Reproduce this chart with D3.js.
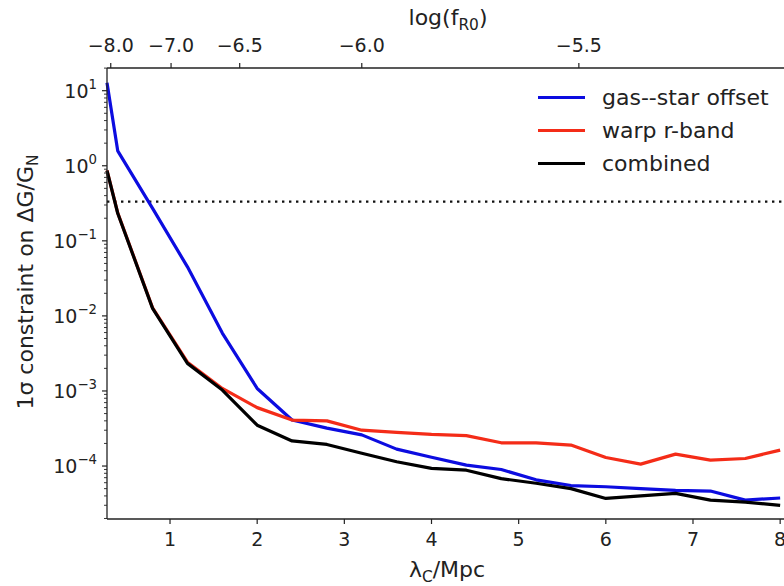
<!DOCTYPE html>
<html>
<head>
<meta charset="utf-8">
<script src="https://cdn.jsdelivr.net/npm/d3@7"></script>
<style>
  html, body { margin: 0; padding: 0; background: #fff; }
  svg { display: block; font-family: "DejaVu Sans", sans-serif; }
</style>
</head>
<body>
<svg id="chart" width="784" height="586"></svg>
<script>
// ---------------- data ----------------
const lambdaC = [0.277, 0.4, 0.8, 1.2, 1.6, 2.0, 2.4, 2.8, 3.2, 3.6, 4.0, 4.4, 4.8, 5.2, 5.6, 6.0, 6.4, 6.8, 7.2, 7.6, 8.0];
const gasStar = [12.8, 1.58, 0.27, 0.045, 0.0059, 1.08e-3, 4.1e-4, 3.2e-4, 2.6e-4, 1.68e-4, 1.31e-4, 1.03e-4, 9.0e-5, 6.55e-5, 5.5e-5, 5.3e-5, 4.99e-5, 4.74e-5, 4.64e-5, 3.52e-5, 3.75e-5];
const warpR   = [0.87, 0.236, 0.0128, 2.42e-3, 1.08e-3, 6.0e-4, 4.1e-4, 4.0e-4, 3.0e-4, 2.81e-4, 2.64e-4, 2.54e-4, 2.04e-4, 2.04e-4, 1.9e-4, 1.3e-4, 1.06e-4, 1.44e-4, 1.2e-4, 1.26e-4, 1.63e-4];
const combined = [0.86, 0.233, 0.0126, 2.33e-3, 1.03e-3, 3.5e-4, 2.16e-4, 1.94e-4, 1.48e-4, 1.14e-4, 9.3e-5, 8.8e-5, 6.8e-5, 5.9e-5, 5.0e-5, 3.7e-5, 4.0e-5, 4.33e-5, 3.52e-5, 3.3e-5, 3.0e-5];
const threshold = 1 / 3;
const seriesNames = ["gas--star offset", "warp r-band", "combined"];
const seriesColors = ["#0c0ce0", "#f42c18", "#000000"];
const xTicks = [1, 2, 3, 4, 5, 6, 7, 8];
const yTicks = [1e-4, 1e-3, 1e-2, 1e-1, 1e0, 1e1];
const yTickExp = ["\u22124", "\u22123", "\u22122", "\u22121", "0", "1"];
const topTicks = [-8.0, -7.0, -6.5, -6.0, -5.5];
const topTickLabels = ["\u22128.0", "\u22127.0", "\u22126.5", "\u22126.0", "\u22125.5"];
// lambda_C = 32 Mpc * sqrt(f_R0 / 1e-4)
const lamFromLogf = L => 32 * Math.pow(10, (L + 4) / 2);

// ---------------- layout ----------------
const svg = d3.select("#chart");
const L = 107, R = 788, T = 68, B = 519;
const x = d3.scaleLinear().domain([0.277, 8.09]).range([L, R]);
const y = d3.scaleLog().domain([1.97e-5, 20.06]).range([B, T]);

const tickFont = 19, labelFont = 22;

// dotted threshold
svg.append("line")
  .attr("x1", L).attr("x2", R)
  .attr("y1", y(threshold)).attr("y2", y(threshold))
  .attr("stroke", "#111").attr("stroke-width", 2.4)
  .attr("stroke-dasharray", "2.4,4.6");

// lines
const data = [gasStar, warpR, combined];
const line = d3.line().x((d, i) => x(lambdaC[i])).y(d => y(d));
data.forEach((s, k) => {
  svg.append("path").datum(s)
    .attr("d", line)
    .attr("fill", "none")
    .attr("stroke", seriesColors[k])
    .attr("stroke-width", 3.2)
    .attr("stroke-linejoin", "round");
});

// spines
svg.append("line").attr("x1", L).attr("x2", L).attr("y1", T).attr("y2", B).attr("stroke", "#222").attr("stroke-width", 1.3);
svg.append("line").attr("x1", L).attr("x2", R).attr("y1", B).attr("y2", B).attr("stroke", "#222").attr("stroke-width", 1.3);
svg.append("line").attr("x1", L).attr("x2", R).attr("y1", T).attr("y2", T).attr("stroke", "#222").attr("stroke-width", 1.3);

// bottom axis
const gx = svg.append("g");
xTicks.forEach(t => {
  gx.append("line").attr("x1", x(t)).attr("x2", x(t)).attr("y1", B).attr("y2", B + 5).attr("stroke", "#222").attr("stroke-width", 1.2);
  gx.append("text").attr("x", x(t)).attr("y", 546).attr("text-anchor", "middle")
    .attr("font-size", tickFont).attr("fill", "#222").text(t);
});
const xl = svg.append("text").attr("x", 447).attr("y", 577).attr("text-anchor", "middle")
  .attr("font-size", labelFont).attr("fill", "#222");
xl.append("tspan").text("\u03bb");
xl.append("tspan").attr("font-size", labelFont * 0.7).attr("dy", 5).text("C");
xl.append("tspan").attr("dy", -5).text("/Mpc");

// top axis
const gt = svg.append("g");
topTicks.forEach((t, i) => {
  const px = x(lamFromLogf(t));
  gt.append("line").attr("x1", px).attr("x2", px).attr("y1", T).attr("y2", T - 5).attr("stroke", "#222").attr("stroke-width", 1.2);
  gt.append("text").attr("x", px).attr("y", 52).attr("text-anchor", "middle")
    .attr("font-size", tickFont).attr("fill", "#222").text(topTickLabels[i]);
});
const tl = svg.append("text").attr("x", 448).attr("y", 25).attr("text-anchor", "middle")
  .attr("font-size", labelFont).attr("fill", "#222");
tl.append("tspan").text("log(f");
tl.append("tspan").attr("font-size", labelFont * 0.7).attr("dy", 5).text("R0");
tl.append("tspan").attr("dy", -5).text(")");

// left axis
const gy = svg.append("g");
const [ymin, ymax] = y.domain();
for (let e = -5; e <= 1; e++) {
  for (let m = 2; m <= 9; m++) {
    const v = m * Math.pow(10, e);
    if (v < ymin || v > ymax) continue;
    gy.append("line").attr("x1", L).attr("x2", L - 3).attr("y1", y(v)).attr("y2", y(v)).attr("stroke", "#222").attr("stroke-width", 0.9);
  }
}
yTicks.forEach((t, i) => {
  gy.append("line").attr("x1", L).attr("x2", L - 5).attr("y1", y(t)).attr("y2", y(t)).attr("stroke", "#222").attr("stroke-width", 1.2);
  const tx = gy.append("text").attr("x", 97).attr("y", y(t) + 7).attr("text-anchor", "end")
    .attr("font-size", tickFont).attr("fill", "#222");
  tx.append("tspan").text("10");
  tx.append("tspan").attr("font-size", tickFont * 0.7).attr("dy", -9).text(yTickExp[i]);
});
const yl = svg.append("text").attr("transform", "translate(33,282) rotate(-90)")
  .attr("text-anchor", "middle").attr("font-size", labelFont).attr("fill", "#222");
yl.append("tspan").text("1\u03c3 constraint on \u0394G/G");
yl.append("tspan").attr("font-size", labelFont * 0.7).attr("dy", 5).text("N");

// legend
const lg = svg.append("g");
seriesNames.forEach((n, i) => {
  const ly = 97.5 + i * 33;
  lg.append("line").attr("x1", 538).attr("x2", 585).attr("y1", ly).attr("y2", ly)
    .attr("stroke", seriesColors[i]).attr("stroke-width", 3.2);
  lg.append("text").attr("x", 602).attr("y", ly + 7).attr("font-size", labelFont).attr("fill", "#222").text(n);
});
</script>
</body>
</html>
